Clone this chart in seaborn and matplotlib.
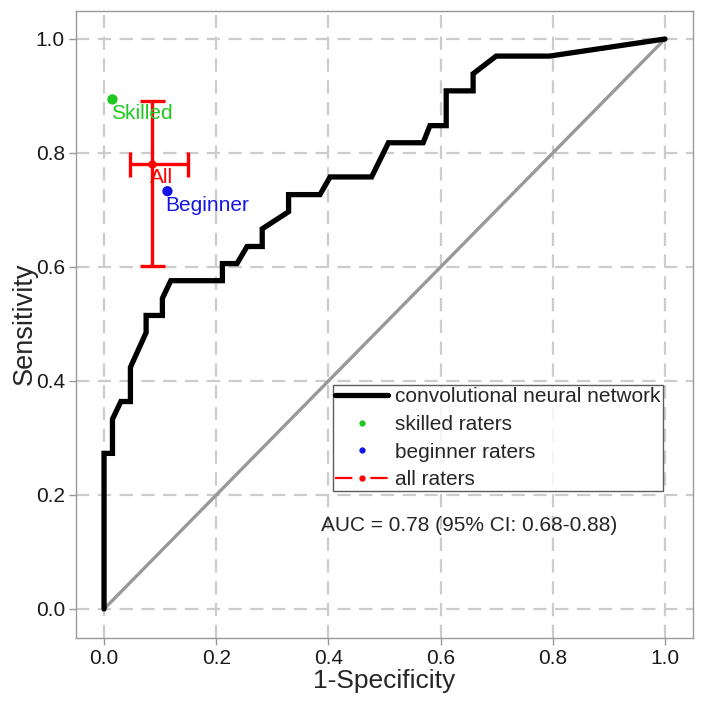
import matplotlib
matplotlib.use("Agg")
import matplotlib.pyplot as plt
from matplotlib.lines import Line2D
import pandas as pd
import seaborn as sns

sns.set_style("white")
plt.rcParams['font.family'] = ['Liberation Sans', 'DejaVu Sans']

# ROC curve of the convolutional neural network
fpr = [0, 0, 0.015, 0.015, 0.030, 0.047, 0.047, 0.075, 0.075, 0.104, 0.104, 0.119,
       0.211, 0.211, 0.237, 0.255, 0.282, 0.282, 0.329, 0.329, 0.385, 0.403, 0.477,
       0.507, 0.569, 0.581, 0.610, 0.610, 0.658, 0.658, 0.699, 0.794, 1.0]
tpr = [0, 0.273, 0.273, 0.333, 0.364, 0.364, 0.424, 0.485, 0.515, 0.515, 0.545, 0.576,
       0.576, 0.606, 0.606, 0.636, 0.636, 0.667, 0.697, 0.727, 0.727, 0.758, 0.758,
       0.818, 0.818, 0.848, 0.848, 0.909, 0.909, 0.939, 0.970, 0.970, 1.0]

# raters
rater_names = ["Skilled", "Beginner", "All"]
rater_fpr = [0.015, 0.113, 0.085]
rater_tpr = [0.894, 0.733, 0.781]
rater_colors = ["#1ec81e", "#1414e6", "#ff0000"]
all_fpr_ci = [0.047, 0.150]
all_tpr_ci = [0.602, 0.892]

auc_text = "AUC = 0.78 (95% CI: 0.68-0.88)"
legend_labels = ["convolutional neural network", "skilled raters", "beginner raters", "all raters"]

roc = pd.DataFrame({"fpr": fpr, "tpr": tpr})
raters = pd.DataFrame({"fpr": rater_fpr, "tpr": rater_tpr, "name": rater_names})

fig = plt.figure(figsize=(7.02, 7.01), dpi=100)
ax = fig.add_axes([76 / 702, 1 - 637.5 / 701, 617 / 702, 627 / 701])

ax.grid(True, color="#cccccc", linestyle=(0, (6, 3.8)), linewidth=1.6)
ax.set_axisbelow(True)

ax.plot([0, 1], [0, 1], color="#999999", linewidth=2.4, zorder=2)
sns.lineplot(data=roc, x="fpr", y="tpr", sort=False, estimator=None, color="black",
             linewidth=3.8, ax=ax, zorder=3)
ax.lines[-1].set_solid_joinstyle("miter")

# error bars for all raters
all_x, all_y = rater_fpr[2], rater_tpr[2]
ax.errorbar(all_x, all_y,
            xerr=[[all_x - all_fpr_ci[0]], [all_fpr_ci[1] - all_x]],
            yerr=[[all_y - all_tpr_ci[0]], [all_tpr_ci[1] - all_y]],
            color="red", linewidth=2.4, capsize=9, capthick=2.4, zorder=4,
            fmt="o", markersize=5)

sns.scatterplot(data=raters.iloc[:2], x="fpr", y="tpr", hue="name",
                palette=rater_colors[:2], s=55, edgecolor="none", ax=ax, zorder=5,
                legend=False)

for name, x, y, c in zip(rater_names, rater_fpr, rater_tpr, rater_colors):
    ax.text(x - 0.003, y - 0.008, name, color=c, fontsize=15, ha="left", va="top", zorder=6)

ax.text(0.65, 0.147, auc_text, fontsize=15, ha="center", va="center")

# legend
handles = [
    Line2D([], [], color="black", linewidth=3.8),
    Line2D([], [], color=rater_colors[0], marker="o", linestyle="none", markersize=3.5),
    Line2D([], [], color=rater_colors[1], marker="o", linestyle="none", markersize=3.5),
    Line2D([], [], color="red", marker="o", linestyle=(0, (7.8, 8.1)), markersize=3.5,
           linewidth=1.6),
]
leg = ax.legend(handles, legend_labels, loc="upper right",
                bbox_to_anchor=(663 / 702, 1 - 385 / 701),
                bbox_transform=fig.transFigure, borderaxespad=0, fontsize=15,
                frameon=True, fancybox=False, handlelength=2.55, handletextpad=0.35,
                labelspacing=0.42, borderpad=0.1)
leg.get_frame().set_edgecolor("#333333")
leg.get_frame().set_linewidth(1.0)

ax.set_xlim(-0.05, 1.05)
ax.set_ylim(-0.05, 1.05)
ticks = [0, 0.2, 0.4, 0.6, 0.8, 1.0]
ax.set_xticks(ticks)
ax.set_yticks(ticks)
ax.set_xticklabels([f"{t:.1f}" for t in ticks], fontsize=15)
ax.set_yticklabels([f"{t:.1f}" for t in ticks], fontsize=15)
ax.tick_params(axis="both", direction="out", length=5, width=1, color="#999999",
               labelcolor="#1a1a1a", bottom=True, left=True, pad=3)
ax.set_xlabel("1-Specificity", fontsize=19, labelpad=1)
ax.set_ylabel("Sensitivity", fontsize=19.5, labelpad=-1.5)
for s in ax.spines.values():
    s.set_color("#999999")
    s.set_linewidth(1.0)

fig.savefig("out.png", dpi=100)
